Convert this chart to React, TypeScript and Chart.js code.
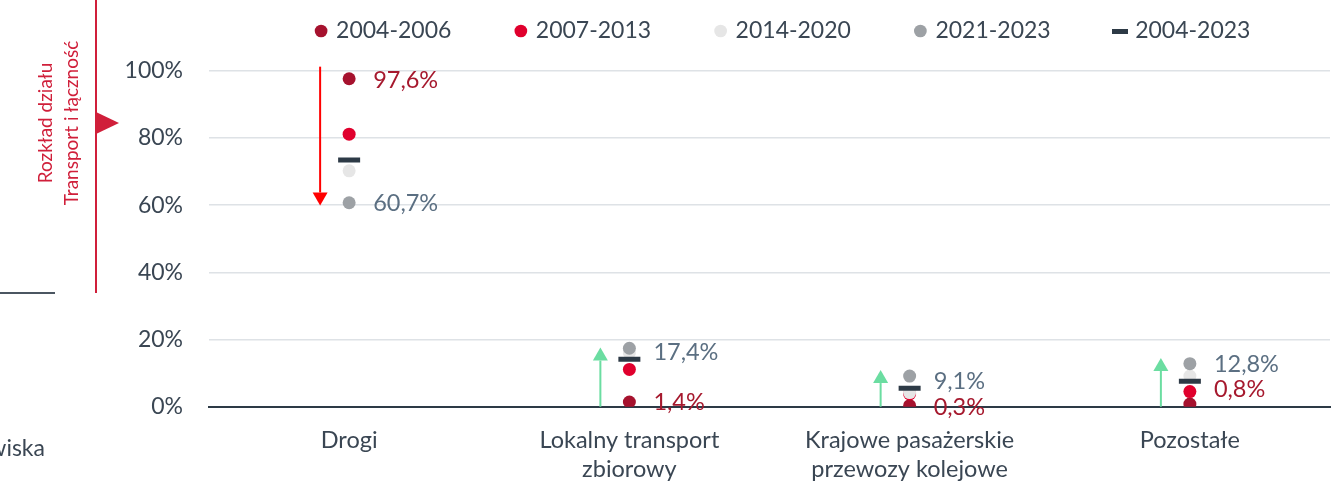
import React, { useEffect, useRef } from "react";
import { Chart, registerables } from "chart.js";

Chart.register(...registerables);

// ---- data ----
const categories: (string | string[])[] = [
  "Drogi",
  ["Lokalny transport", "zbiorowy"],
  ["Krajowe pasażerskie", "przewozy kolejowe"],
  "Pozostałe",
];
const seriesNames = ["2004-2006", "2007-2013", "2014-2020", "2021-2023", "2004-2023"];
const values2004_2006 = [97.6, 1.4, 0.3, 0.8];
const values2007_2013 = [81.1, 11.1, 3.8, 4.5];
const values2014_2020 = [70.2, 16.0, 4.2, 9.1];
const values2021_2023 = [60.7, 17.4, 9.1, 12.8];
const values2004_2023 = [73.4, 14.1, 5.5, 7.6];
const yTickValues = [0, 20, 40, 60, 80, 100];

const startLabels = ["97,6%", "1,4%", "0,3%", "0,8%"];
const endLabels = ["60,7%", "17,4%", "9,1%", "12,8%"];
const startLabelAt = [97.0, 1.2, -0.1, 5.0];
const endLabelAt = [60.5, 16.3, 7.4, 12.5];
const arrowFrom = [101.2, 0, 0, 0];
const arrowTo = [59.9, 17.6, 10.9, 14.5];

const FONT = "Lato";
const TEXT = "#3A4653";
const DASH = "#2D3A46";

const legendPlugin = {
  id: "legendTweak",
  beforeInit(chart: any) {
    const lg = chart.legend;
    if (!lg) return;
    const fit = lg.fit;
    lg.fit = function () {
      fit.call(this);
      this.height = 70.7;
    };
    const inner = lg._draw;
    lg._draw = function () {
      const ctx = this.ctx;
      ctx.save();
      ctx.translate(119, -46.5);
      inner.call(this);
      ctx.restore();
    };
  },
};

const annotPlugin = {
  id: "annot",
  afterDatasetsDraw(chart: any) {
    const ctx = chart.ctx;
    const xs = chart.scales.x;
    const ys = chart.scales.y;
    ctx.save();
    // arrows
    for (let i = 0; i < categories.length; i++) {
      const x = xs.getPixelForValue(i) - 29;
      const y1 = ys.getPixelForValue(arrowFrom[i]);
      const y2 = ys.getPixelForValue(arrowTo[i]);
      const dir = y2 > y1 ? 1 : -1;
      const color = dir > 0 ? "#FF0000" : "#6BDDA1";
      const headLen = 13;
      const headHalf = 7.5;
      ctx.strokeStyle = color;
      ctx.fillStyle = color;
      ctx.lineWidth = 2;
      ctx.beginPath();
      ctx.moveTo(x, y1);
      ctx.lineTo(x, y2 - dir * headLen);
      ctx.stroke();
      ctx.beginPath();
      ctx.moveTo(x, y2);
      ctx.lineTo(x - headHalf, y2 - dir * headLen);
      ctx.lineTo(x + headHalf, y2 - dir * headLen);
      ctx.closePath();
      ctx.fill();
    }
    // value labels
    ctx.font = `23.5px ${FONT}`;
    ctx.textAlign = "left";
    ctx.textBaseline = "middle";
    for (let i = 0; i < categories.length; i++) {
      const x = xs.getPixelForValue(i) + 24;
      ctx.fillStyle = "#A6192E";
      ctx.fillText(startLabels[i], x, ys.getPixelForValue(startLabelAt[i]));
      ctx.fillStyle = "#5B6F82";
      ctx.fillText(endLabels[i], x, ys.getPixelForValue(endLabelAt[i]));
    }
    ctx.restore();
  },
};

export default function App() {
  const ref = useRef<HTMLCanvasElement | null>(null);
  useEffect(() => {
    if (!ref.current) return;
    const dashIcon = document.createElement("canvas");
    dashIcon.width = 16;
    dashIcon.height = 5;
    const dctx = dashIcon.getContext("2d");
    if (dctx) {
      dctx.fillStyle = DASH;
      dctx.fillRect(0, 0, 16, 5);
    }
    const pointDs = (label: string, data: number[], color: string, order: number) => ({
      type: "line" as const,
      label,
      data,
      showLine: false,
      pointRadius: 6.5,
      pointHoverRadius: 6.5,
      pointBackgroundColor: color,
      pointBorderColor: color,
      pointBorderWidth: 0,
      backgroundColor: color,
      borderColor: color,
      pointStyle: "circle",
      order,
    });
    const chart = new Chart(ref.current, {
      type: "line",
      data: {
        labels: categories as any,
        datasets: [
          pointDs(seriesNames[0], values2004_2006, "#A6122E", 4),
          pointDs(seriesNames[1], values2007_2013, "#E0002D", 3),
          pointDs(seriesNames[2], values2014_2020, "#E6E6E6", 2),
          pointDs(seriesNames[3], values2021_2023, "#9DA1A5", 1),
          {
            type: "line",
            label: seriesNames[4],
            data: values2004_2023,
            showLine: false,
            pointStyle: "line",
            pointRadius: 11,
            pointHoverRadius: 11,
            pointBorderWidth: 5,
            pointBorderColor: DASH,
            pointBackgroundColor: DASH,
            borderColor: DASH,
            backgroundColor: DASH,
            order: 0,
          } as any,
        ],
      },
      options: {
        animation: false,
        responsive: true,
        maintainAspectRatio: false,
        layout: { autoPadding: false, padding: { left: 0, right: 7, top: 0, bottom: 0 } },
        plugins: {
          legend: {
            display: true,
            position: "top",
            labels: {
              usePointStyle: true,
              boxWidth: 7,
              boxHeight: 9,
              padding: 66,
              color: TEXT,
              font: { family: FONT, size: 23 },
              sort: (a: any, b: any) => a.datasetIndex - b.datasetIndex,
              generateLabels: (c: any) => {
                const items = (Chart as any).defaults.plugins.legend.labels.generateLabels(c);
                return items.map((it: any) =>
                  it.datasetIndex === 4 ? { ...it, pointStyle: dashIcon } : it
                );
              },
            },
          },
          tooltip: { enabled: false },
        },
        scales: {
          x: {
            type: "category",
            offset: true,
            grid: { display: false, drawTicks: false },
            border: { display: true, color: DASH, width: 2 },
            ticks: {
              color: TEXT,
              font: { family: FONT, size: 23.5, lineHeight: 1.2 },
              padding: 20,
              maxRotation: 0,
              autoSkip: false,
            },
            afterFit: (s: any) => {
              s.height = 84.3;
              s.paddingLeft = 0;
              s.paddingRight = 0;
            },
          },
          y: {
            min: 0,
            max: 100,
            afterBuildTicks: (s: any) => {
              s.ticks = yTickValues.map((v) => ({ value: v }));
            },
            grid: {
              drawTicks: false,
              lineWidth: 1.5,
              color: (c: any) => (c.tick && c.tick.value === 0 ? "rgba(0,0,0,0)" : "#DEE2E6"),
            },
            border: { display: false },
            ticks: {
              color: TEXT,
              font: { family: FONT, size: 23 },
              padding: 26,
              callback: (v: any) => `${v}%`,
            },
            afterFit: (s: any) => {
              s.width = 209;
            },
          },
        },
      },
      plugins: [legendPlugin, annotPlugin],
    } as any);
    return () => chart.destroy();
  }, []);

  return (
    <div style={{ position: "fixed", left: 0, top: 0, width: 1337, height: 491, background: "#fff", overflow: "hidden" }}>
      <canvas ref={ref} style={{ position: "absolute", left: 0, top: 0 }} />
      <div style={{ position: "absolute", left: 95, top: 0, width: 2, height: 293, background: "#D01F3A" }} />
      <div
        style={{
          position: "absolute",
          left: 96,
          top: 112,
          width: 0,
          height: 0,
          borderTop: "11px solid transparent",
          borderBottom: "11px solid transparent",
          borderLeft: "23px solid #D01F3A",
        }}
      />
      <div
        style={{
          position: "absolute",
          left: 58,
          top: 123,
          width: 240,
          transform: "translate(-50%, -50%) rotate(-90deg)",
          textAlign: "center",
          color: "#D01F3A",
          fontFamily: FONT,
          fontSize: 19,
          lineHeight: "25.7px",
          whiteSpace: "nowrap",
        }}
      >
        <div>Rozkład działu</div>
        <div>Transport i łączność</div>
      </div>
      <div style={{ position: "absolute", left: 0, top: 292, width: 55, height: 2, background: "#4B5661" }} />
      <div
        style={{
          position: "absolute",
          right: 1337 - 45,
          top: 447,
          transform: "translateY(-50%)",
          color: TEXT,
          fontFamily: FONT,
          fontSize: 23,
          whiteSpace: "nowrap",
        }}
      >
        wiska
      </div>
    </div>
  );
}
